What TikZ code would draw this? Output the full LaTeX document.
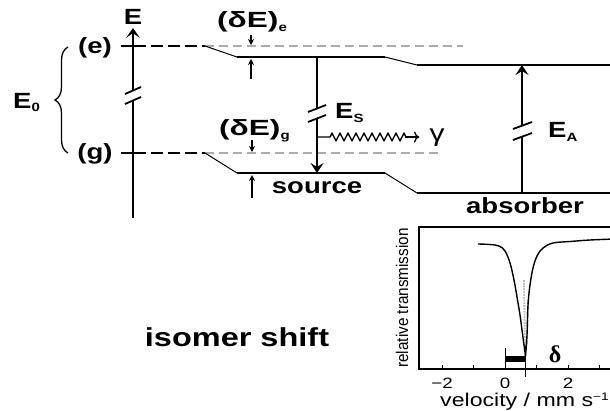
\documentclass[tikz,border=0pt]{standalone}
\usepackage{fontspec}
\setmainfont{Liberation Sans}[FakeStretch=1.25]
\newfontfamily\rotfont{Liberation Sans}
\newfontfamily\serfont{Liberation Serif}
\usetikzlibrary{arrows.meta,decorations.pathreplacing,decorations.pathmorphing}
\newcommand\sbs[2][4pt]{\raisebox{-#1}{\fontsize{12}{12}\selectfont #2}}
\tikzset{
  thk/.style={line width=2.6pt},
  thn/.style={line width=1pt},
  brk/.style={line width=1.8pt},
  gdash/.style={gray!65, line width=1.4pt, dash pattern=on 9pt off 5pt},
  kdash/.style={line width=2.6pt, dash pattern=on 12pt off 5pt},
  lbl/.style={font=\fontsize{22}{22}\selectfont\bfseries, inner sep=0pt},
  small/.style={font=\fontsize{15}{15}\selectfont, inner sep=0pt},
  bigtip/.style={-{Stealth[length=10pt,width=13pt,inset=4pt]}},
  smalltip/.style={-{Stealth[length=6pt,width=6pt]}},
}
\begin{document}
\begin{tikzpicture}[x=1pt,y=-1pt]
\useasboundingbox (0,0) rectangle (610,410);
\clip (0,0) rectangle (610,410);

% ---- energy axis
\coordinate (Ebot) at (133,218);
\coordinate (Eb1) at (133,100);
\coordinate (Eb2) at (133,90);
\coordinate (Etop) at (133,28);
\draw[thk] (Ebot) -- (Eb1);
\draw[thk,-{Stealth[length=10pt,width=14pt,inset=5pt]}] (Eb2) -- (Etop);
\draw[brk] (125,104) -- (141,97);
\draw[brk] (125,94) -- (141,87);
\node[lbl,anchor=base] (E) at (133,24) {E};

% ---- brace and E0
\draw[line width=1.3pt, decorate, decoration={brace, amplitude=13pt, aspect=0.5}] (68,153) -- (68,47);
\node[lbl,anchor=base west] (E0) at (13,108) {E\sbs[3pt]{0}};

% ---- (e) level
\node[lbl,anchor=base] (le) at (95,53) {(e)};
\draw[thk] (121,46) -- (146,46);
\draw[kdash] (151,46) -- (205,46);
\coordinate (e1) at (205,46);
\coordinate (e2) at (237,57);
\coordinate (e3) at (385,57);
\coordinate (e4) at (417,65);
\coordinate (e5) at (612,65);
\draw[gdash] (e1) -- (463,46);
\draw[thn] (e1) -- (e2);
\draw[thk] (e2) -- (e3);
\draw[thn] (e3) -- (e4);
\draw[thk] (e4) -- (e5);

% ---- (g) level
\node[lbl,anchor=base] (lg) at (95,159) {(g)};
\draw[thk] (121,153) -- (146,153);
\draw[kdash] (151,153) -- (205,153);
\coordinate (g1) at (205,153);
\coordinate (g2) at (237,173);
\coordinate (g3) at (385,173);
\coordinate (g4) at (417,193);
\coordinate (g5) at (612,193);
\draw[gdash] (g1) -- (438,153);
\draw[thn] (g1) -- (g2);
\draw[thk] (g2) -- (g3);
\draw[thn] (g3) -- (g4);
\draw[thk] (g4) -- (g5);

% ---- delta E labels and small arrows
\node[lbl,anchor=base west] (dEe) at (217,27) {\scalebox{1.15}[1]{(δE)}\sbs{e}};
\draw[line width=1.1pt,smalltip] (251,35) -- (251,45);
\draw[line width=1.1pt,smalltip] (251,79) -- (251,59);
\node[lbl,anchor=base west] (dEg) at (219,135) {\scalebox{1.15}[1]{(δE)}\sbs{g}};
\draw[line width=1.1pt,smalltip] (252,140) -- (252,152);
\draw[line width=1.1pt,smalltip] (252,198) -- (252,175);

% ---- source transition E_S
\coordinate (s1) at (317,57);
\coordinate (s2) at (317,108);
\coordinate (s3) at (317,118);
\coordinate (s4) at (317,173);
\draw[line width=2pt] (s1) -- (s2);
\draw[line width=2pt,bigtip] (s3) -- (s4);
\draw[brk] (308,112) -- (326,105);
\draw[brk] (308,122) -- (326,115);
\node[lbl,anchor=base west] (ES) at (335,118) {E\sbs{S}};
\node[lbl,anchor=base] (src) at (317,193) {source};

% ---- gamma
\coordinate (ga) at (318,137);
\coordinate (gb) at (419,137);
\draw[line width=1.3pt, decorate, decoration={zigzag, amplitude=3.8pt, segment length=8pt, pre length=12pt, post length=12pt}] (ga) -- (gb);
\draw[line width=1.3pt,-{To[length=5pt,width=11pt]}] (405,137) -- (gb);
\node[font=\fontsize{24}{24}\selectfont, inner sep=0pt, anchor=base] (gam) at (437,141) {γ};

% ---- absorber transition E_A
\coordinate (a1) at (522,193);
\coordinate (a2) at (522,136);
\coordinate (a3) at (522,126);
\coordinate (a4) at (522,65);
\draw[line width=2pt] (a1) -- (a2);
\draw[line width=2pt,bigtip] (a3) -- (a4);
\draw[brk] (513,140) -- (532,133);
\draw[brk] (513,129) -- (532,122);
\node[lbl,anchor=base west] (EA) at (548,137) {E\sbs{A}};
\node[lbl,anchor=base] (abs) at (525,213) {absorber};

% ---- isomer shift
\node[font=\fontsize{26}{26}\selectfont\bfseries, inner sep=0pt, anchor=base] (iso) at (237,346) {isomer shift};

% ---- inset spectrum
\draw[line width=1.6pt] (614,227) -- (419,227) -- (419,369) -- (614,369);
\foreach \v in {-2,-1,0,1,2,3} {
  \draw[line width=1pt] ({505+31.5*\v},369) -- ({505+31.5*\v},365);
}
\node[small,anchor=base] (t1) at (442,388) {−2};
\node[small,anchor=base] (t2) at (505,388) {0};
\node[small,anchor=base] (t3) at (568,388) {2};
\node[font=\fontsize{18.5}{18.5}\selectfont, inner sep=0pt, anchor=base west] (vel) at (440,406) {velocity / mm s\raisebox{6pt}{\fontsize{11}{11}\selectfont −1}};
\node[font=\rotfont\fontsize{15.3}{15.3}\selectfont, inner sep=0pt, rotate=90] (rt) at (402,298) {\scalebox{1}[1.1]{relative transmission}};
% data points (grey) inside the dip
\draw[gray!55, line width=1.8pt, densely dotted] (524,280) -- (525,350);
\draw[gray!55, line width=1.5pt, densely dotted] (528,300) -- (527,345);
% fitted curve
\draw[line width=1.4pt] plot[smooth, tension=0.6] coordinates {(478,244) (490,244.5) (499,246) (505,251) (510,263) (514,280) (517,297) (520,315) (522,330) (524,345) (525.5,356)};
\draw[line width=1.4pt] plot[smooth, tension=0.6] coordinates {(525.5,356) (527,335) (528,305) (530,285) (533,268) (537,256) (543,248) (553,243) (570,241.5) (590,240) (614,239)};
\fill (505,356) rectangle (525,362);
\draw[line width=1pt] (505,348) -- (505,369);
\draw[line width=1pt] (525,346) -- (525,377);
\node[font=\serfont\bfseries\fontsize{24}{24}\selectfont, inner sep=0pt] (dl) at (555,354) {δ};
\end{tikzpicture}
\end{document}
